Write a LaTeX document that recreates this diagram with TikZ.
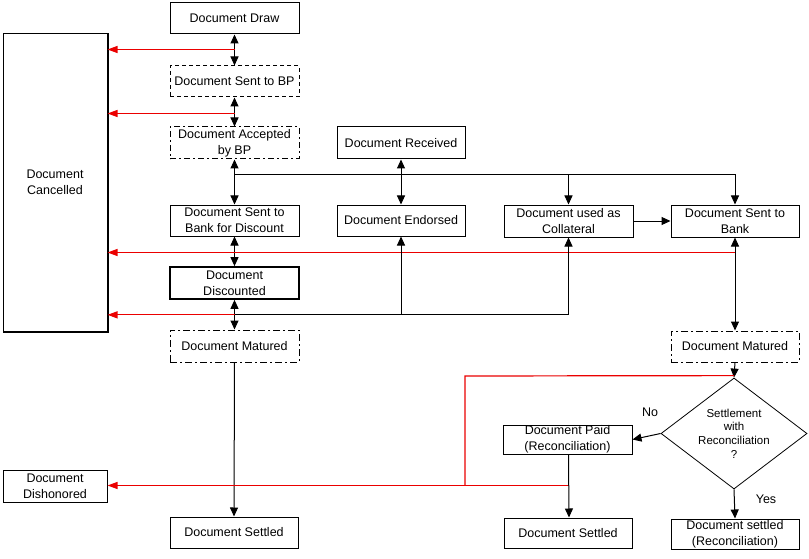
\documentclass[tikz,border=0pt]{standalone}
\usepackage{fontspec}
\setmainfont{Liberation Sans}
\usetikzlibrary{arrows.meta,shapes.geometric,calc}
\definecolor{redline}{RGB}{235,0,0}
\begin{document}
\begin{tikzpicture}[x=1pt,y=-1pt,
  box/.style={draw,line width=1pt,inner sep=0pt,minimum width=129pt,minimum height=31pt,align=center,font=\fontsize{12.5}{16}\selectfont},
  dashbox/.style={box,dash pattern=on 4pt off 3pt},
  dotbox/.style={box,dash pattern=on 6pt off 3pt on 2pt off 3pt},
  matbox/.style={box,dash pattern=on 7pt off 3pt on 2pt off 3pt},
  conn/.style={draw,line width=1pt},
  arr/.style={conn,-{Triangle[length=9pt,width=8pt]}},
  dbl/.style={conn,{Triangle[length=9pt,width=8pt]}-{Triangle[length=9pt,width=8pt]}},
  redl/.style={draw,line width=1.2pt,redline},
  redarr/.style={redl,-{Triangle[length=10pt,width=7pt]}},
  lbl/.style={font=\fontsize{12.5}{16}\selectfont,inner sep=0pt}
]
\useasboundingbox (0,0) rectangle (809,559);
\fill[white] (0,0) rectangle (809,559);

% nodes
\node[box] (draw) at (234.5,18.5) {Document Draw};
\node[dashbox] (sentbp) at (234.5,81.5) {Document Sent to BP};
\node[dotbox,minimum height=32pt] (accbp) at (234.5,143) {Document Accepted\\by BP};
\node[box,minimum width=128pt,minimum height=32pt] (recv) at (401,143) {Document Received};
\node[box] (sbd) at (234.5,220.5) {Document Sent to\\Bank for Discount};
\node[box,minimum width=128pt] (endo) at (401,220.5) {Document Endorsed};
\node[box,minimum height=32pt] (coll) at (568.5,221) {Document used as\\Collateral};
\node[box,minimum width=128pt,minimum height=32pt] (sbank) at (735,221) {Document Sent to\\Bank};
\node[box,line width=1.7pt,minimum height=32pt] (disc) at (234.5,283) {Document\\Discounted};
\node[matbox,minimum height=32pt] (matL) at (234.5,346) {Document Matured};
\node[matbox,minimum width=128pt] (matR) at (735,346.5) {Document Matured};
\node[draw,line width=0.8pt,diamond,shape aspect=1.315,inner sep=0pt,minimum width=146pt,minimum height=111pt,align=center,font=\fontsize{11.5}{13.7}\selectfont] (dia) at (734,433.5) {Settlement\\with\\Reconciliation\\?};
\node[box,minimum height=29pt] (paid) at (567.5,439.5) {Document Paid\\(Reconciliation)};
\node[box,minimum width=128pt,minimum height=30pt] (settM) at (568,533) {Document Settled};
\node[box,minimum width=128pt,minimum height=30pt] (settR) at (735,534) {Document settled\\(Reconciliation)};
\node[box,minimum width=128pt] (settL) at (234,532.5) {Document Settled};
\node[box,minimum width=104pt,minimum height=32pt] (dish) at (55,486) {Document\\Dishonored};
\node[box,minimum width=104pt,minimum height=297pt] (canc) at (55,182.5) {Document\\Cancelled};

% thicker right/bottom of cancelled box
\draw[line width=2pt] (canc.north east) -- (canc.south east) -- (canc.south west);

% left column
\draw[dbl] (draw.south) -- (sentbp.north);
\coordinate (r1) at ($(draw.south)+(0,15)$);
\draw[redarr] (r1) -- (r1 -| canc.east);
\draw[dbl] (sentbp.south) -- (accbp.north);
\coordinate (r2) at ($(sentbp.south)+(0,16)$);
\draw[redarr] (r2) -- (r2 -| canc.east);
\draw[dbl] (accbp.south) -- (sbd.north);
\coordinate (j1) at ($(accbp.south)+(0,15)$);
\draw[conn] (j1) -- (j1 -| sbank.north);
\draw[arr] (j1 -| coll.north) -- (coll.north);
\draw[arr] (j1 -| sbank.north) -- (sbank.north);
\draw[dbl] (recv.south) -- (endo.north);
\draw[dbl] (sbd.south) -- (disc.north);
\coordinate (r3) at ($(sbank.south)+(0,15)$);
\draw[redarr] (r3) -- (r3 -| canc.east);
\draw[dbl] (disc.south) -- (matL.north);
\coordinate (j2) at ($(disc.south)+(0,15)$);
\draw[redarr] (j2) -- (j2 -| canc.east);
\draw[conn] (j2) -- (j2 -| coll.south);
\draw[arr] (j2 -| endo.south) -- (endo.south);
\draw[arr] (j2 -| coll.south) -- (coll.south);
\draw[arr] (coll.east) -- (sbank.west);
\draw[dbl] (sbank.south) -- (matR.north);
\draw[arr] (matR.south) -- (dia.north);
\draw[arr] (matL.south) -- (settL.north);

% red dishonor route
\coordinate (r5) at ($(dia.north)+(0,-2)$);
\coordinate (rk1) at (465,376);
\coordinate (rk2) at (465,485);
\coordinate (rk3) at ($(paid.south)+(1,31)$);
\draw[redl] (r5) -- (rk1) -- (rk2);
\draw[redarr] (rk3) -- (rk3 -| dish.east);

% decision
\draw[arr] (dia.west) -- (paid.east);
\draw[arr] (dia.south) -- (settR.north);
\draw[arr] ($(paid.south)+(1,0)$) -- ($(settM.north)+(1,0)$);
\node[lbl] (no) at (650,412) {No};
\node[lbl] (yes) at (766,499) {Yes};
\end{tikzpicture}
\end{document}
